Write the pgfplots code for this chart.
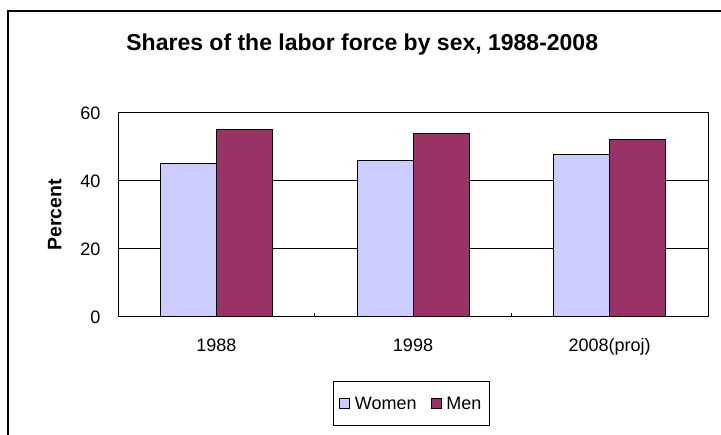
\documentclass[border=0pt]{standalone}
\usepackage{fontspec}
\setmainfont{Liberation Sans}
\usepackage{pgfplots}
\pgfplotsset{compat=1.18}
\definecolor{women}{HTML}{CCCCFF}
\definecolor{men}{HTML}{993366}
\begin{document}
\begin{tikzpicture}[x=1bp,y=1bp]
\useasboundingbox (0,0) rectangle (721,435);
\fill[white] (0,0) rectangle (721,435);
\draw[line width=1.5bp] (8,-2) -- (8,424) -- (723,424);
\begin{axis}[
  at={(118bp,118bp)}, anchor=south west,
  scale only axis, width=590bp, height=204bp,
  xmin=-0.5, xmax=2.5, ymin=0, ymax=60,
  ytick={0,20,40,60},
  xtick={0,1,2}, xticklabels={1988,1998,2008(proj)},
  minor xtick={0.5,1.5},
  xtick pos=lower, ytick pos=left,
  major tick length=0pt, minor tick length=-4bp,
  xtick align=inside, ytick align=inside,
  ymajorgrids, grid style={black, line width=1bp},
  axis line style={black, line width=1bp},
  tick style={black, line width=1bp},
  ybar=0pt, bar width=56bp,
  ticklabel style={font=\fontsize{18bp}{20bp}\selectfont},
  /pgf/number format/assume math mode=true,
  yticklabel style={xshift=-14bp},
  xticklabel style={yshift=-18bp},
  ylabel={Percent},
  ylabel style={font=\bfseries\fontsize{19.5bp}{22bp}\selectfont, at={(axis description cs:-0.107,0.5)}, anchor=center},
  title={Shares of the labor force by sex, 1988-2008},
  title style={font=\bfseries\fontsize{23bp}{25bp}\selectfont, at={(axis description cs:0.414,1.276)}, anchor=base},
  legend columns=2,
  legend style={at={(axis description cs:0.497,-0.426)}, anchor=center, draw=black, line width=1bp,
    font=\fontsize{18bp}{20bp}\selectfont, inner xsep=6bp, inner ysep=13bp,
    /tikz/every odd column/.append style={column sep=3bp},
    /tikz/every even column/.append style={column sep=12bp}},
  legend image code/.code={\draw[#1, line width=0.8bp] (0bp,-5bp) rectangle (10bp,5bp);},
]
\addplot[fill=women, draw=black, line width=1bp] coordinates {(0,45.0) (1,46.0) (2,47.7)};
\addplot[fill=men, draw=black, line width=1bp] coordinates {(0,55.0) (1,54.0) (2,52.3)};
\legend{Women,Men}
\end{axis}
\end{tikzpicture}
\end{document}
